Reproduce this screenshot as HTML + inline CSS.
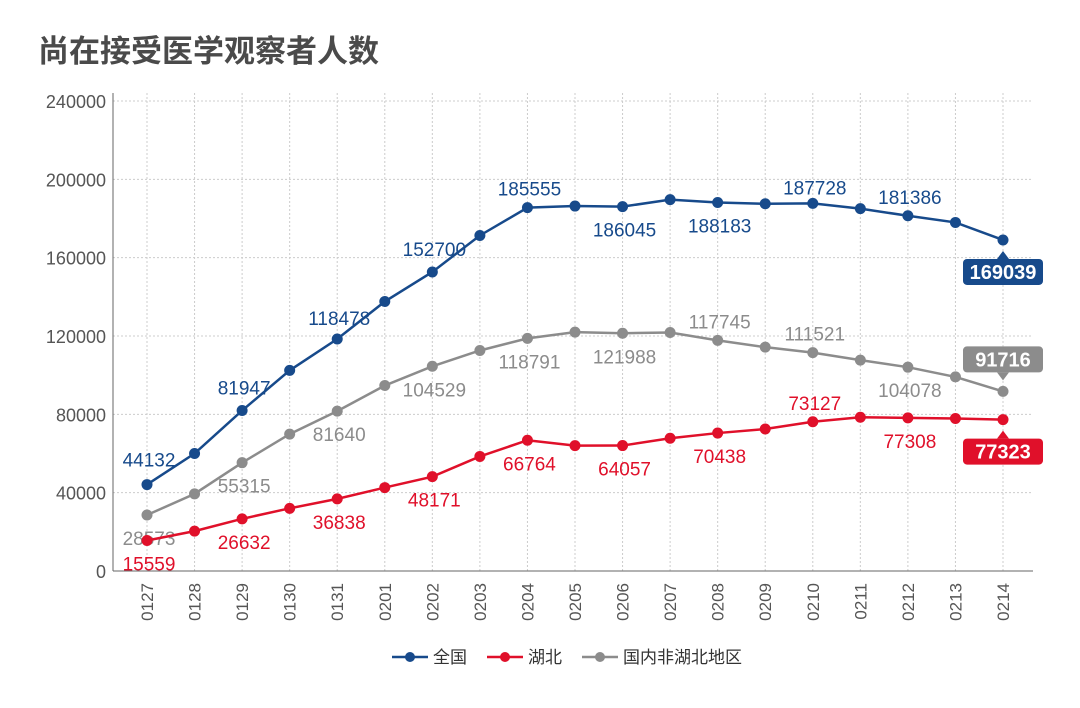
<!DOCTYPE html>
<html><head><meta charset="utf-8"><style>
body{margin:0;background:#fff;width:1080px;height:703px;overflow:hidden;font-family:"Liberation Sans","Noto Sans CJK SC",sans-serif}
</style></head><body>
<svg id="c" width="1080" height="703" xmlns="http://www.w3.org/2000/svg">
<text x="38" y="62" font-size="31" font-weight="bold" fill="#4a4a4a" font-family="Liberation Sans, Noto Sans CJK SC, sans-serif">尚在接受医学观察者人数</text>
</svg>
<script>
const categories=["0127","0128","0129","0130","0131","0201","0202","0203","0204","0205","0206","0207","0208","0209","0210","0211","0212","0213","0214"];
const national=[44132,59990,81947,102427,118478,137594,152700,171329,185555,186354,186045,189660,188183,187518,187728,185037,181386,177984,169039];
const hubei=[15559,20366,26632,32000,36838,42600,48171,58500,66764,64000,64057,67800,70438,72500,76200,78500,78200,77900,77323];
const others=[28573,39400,55315,69900,81640,94700,104529,112600,118791,121988,121400,121800,117745,114300,111521,107700,104078,99100,91716];
const yTicks=[0,40000,80000,120000,160000,200000,240000];
// label: [index, value text, dy]
const natLabels=[[0,"44132",-18],[2,"81947",-16],[4,"118478",-14],[6,"152700",-16],[8,"185555",-12],[10,"186045",30],[12,"188183",30],[14,"187728",-9],[16,"181386",-12]];
const othLabels=[[0,"28573",30],[2,"55315",30],[4,"81640",30],[6,"104529",30],[8,"118791",30],[10,"121988",30],[12,"117745",-12],[14,"111521",-12],[16,"104078",30]];
const hubLabels=[[0,"15559",30],[2,"26632",30],[4,"36838",30],[6,"48171",30],[8,"66764",30],[10,"64057",30],[12,"70438",30],[14,"73127",-12],[16,"77308",30]];
const svg=document.getElementById('c');const NS="http://www.w3.org/2000/svg";
const x0=147,dx=(1003-147)/18,yb=571,yt=101,L=113,R=1033;
const X=i=>x0+i*dx, Y=v=>yb-(v/240000)*(yb-yt);
function mk(t,a,p){const e=document.createElementNS(NS,t);for(const k in a)e.setAttribute(k,a[k]);(p||svg).appendChild(e);return e;}
yTicks.forEach(v=>{
 const g=mk('line',{x1:L,x2:R,y1:Y(v),y2:Y(v),stroke:'#ccc','stroke-dasharray':'2,2'});
 
 
 const t=mk('text',{x:106,y:Y(v)+7,'text-anchor':'end','font-size':18,fill:'#555'});t.textContent=v;
 
 
});
categories.forEach((c,i)=>{
 const g=mk('line',{x1:X(i),x2:X(i),y1:93,y2:yb,stroke:'#ccc','stroke-dasharray':'2,2'});
 
 
 const t=mk('text',{x:0,y:0,'text-anchor':'end','font-size':17,fill:'#555',transform:`translate(${X(i)+6},${yb+12}) rotate(-90)`});t.textContent=c;
 
 
});
const ax=mk('line',{x1:L,x2:L,y1:93,y2:yb,stroke:'#666'});


const bx=mk('line',{x1:L,x2:R,y1:yb,y2:yb,stroke:'#666'});


function series(data,col,name,labels,endDy){
 const p=mk('polyline',{points:data.map((v,i)=>X(i)+','+Y(v)).join(' '),fill:'none',stroke:col,'stroke-width':2.5});
 
 
 data.forEach((v,i)=>{const c=mk('circle',{cx:X(i),cy:Y(v),r:5.5,fill:col});
  
  });
 labels.forEach(([i,s,dy])=>{const t=mk('text',{x:X(i)+2,y:Y(data[i])+dy,'text-anchor':'middle','font-size':19,fill:col});t.textContent=s;
  
  });
 const n=data.length-1,cx=X(n),cy=Y(data[n])+endDy;
 const w=80,h=26;const g=mk('g',{});
 
 
 mk('rect',{x:cx-w/2,y:cy-h/2,width:w,height:h,rx:4,fill:col},g);
 const ay=endDy>0?cy-h/2:cy+h/2, s=endDy>0?-8:8;
 mk('polygon',{points:`${cx-6},${ay} ${cx+6},${ay} ${cx},${ay+s}`,fill:col},g);
 const t=mk('text',{x:cx,y:cy+7,'text-anchor':'middle','font-size':20,'font-weight':'bold',fill:'#fff'},g);t.textContent=data[n];
}
series(others,'#8c8c8c','others',othLabels,-32);
series(hubei,'#e0102a','hubei',hubLabels,32);
series(national,'#174a8b','national',natLabels,32);
const leg=[['全国','#174a8b',392],['湖北','#e0102a',487],['国内非湖北地区','#8c8c8c',582]];
leg.forEach(([n,c,x])=>{const g=mk('g',{});
 
 
 mk('line',{x1:x,x2:x+36,y1:657,y2:657,stroke:c,'stroke-width':2.5},g);
 mk('circle',{cx:x+18,cy:657,r:5,fill:c},g);
 const t=mk('text',{x:x+41,y:663,'font-size':17,fill:'#333'},g);t.textContent=n;});
</script>
</body></html>
